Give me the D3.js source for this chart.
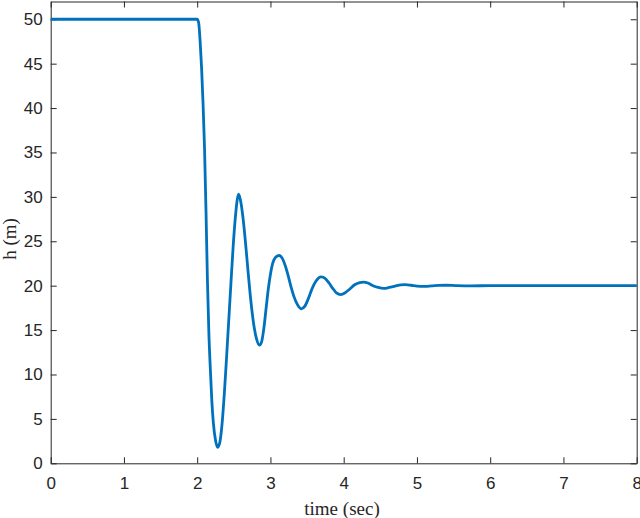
<!DOCTYPE html>
<html>
<head>
<meta charset="utf-8">
<script src="https://cdn.jsdelivr.net/npm/d3@7"></script>
<style>
  html, body { margin: 0; padding: 0; background: #fff; }
  svg { display: block; }
</style>
</head>
<body>
<svg id="chart" width="640" height="518"></svg>
<script>
// ---- data ----
const timeSec = [
  0, 2.00, 2.02, 2.04, 2.06, 2.08, 2.10, 2.12, 2.14, 2.16, 2.18, 2.20, 2.22, 2.25, 2.28,
  2.31, 2.34, 2.37, 2.40, 2.43, 2.46, 2.49, 2.52, 2.545, 2.567, 2.60, 2.63, 2.66, 2.69,
  2.72, 2.75, 2.78, 2.81, 2.85, 2.88, 2.91, 2.94, 2.97, 3.00, 3.03, 3.07, 3.12, 3.16,
  3.20, 3.24, 3.28, 3.32, 3.36, 3.42, 3.47, 3.52, 3.57, 3.62, 3.69, 3.75, 3.80, 3.85,
  3.90, 3.96, 4.02, 4.08, 4.15, 4.22, 4.27, 4.33, 4.40, 4.47, 4.55, 4.62, 4.70, 4.78,
  4.84, 4.92, 5.00, 5.10, 5.20, 5.30, 5.40, 5.55, 5.75, 6.00, 7.00, 8.00
];
const heightM = [
  50, 50, 49.6, 47.5, 44.5, 40.5, 35.5, 28.5, 20.5, 14.5, 10.5, 7.0, 4.6, 2.6, 1.8,
  2.4, 4.5, 7.8, 11.8, 16.0, 20.2, 24.3, 27.6, 29.6, 30.3, 29.2, 27.3, 24.8, 22.0,
  19.3, 17.0, 15.2, 14.0, 13.3, 13.7, 15.2, 17.4, 19.6, 21.3, 22.5, 23.2, 23.4, 23.1,
  22.3, 21.2, 19.9, 18.8, 18.0, 17.4, 17.7, 18.6, 19.7, 20.5, 21.0, 20.8, 20.3, 19.7,
  19.2, 19.0, 19.2, 19.6, 20.1, 20.35, 20.4, 20.3, 20.0, 19.8, 19.7, 19.8, 19.95, 20.1,
  20.12, 20.05, 19.95, 19.92, 19.97, 20.03, 20.05, 20.0, 19.98, 20.0, 20.0, 20.0
];
const xTicks = [0, 1, 2, 3, 4, 5, 6, 7, 8];
const yTicks = [0, 5, 10, 15, 20, 25, 30, 35, 40, 45, 50];
const xLabel = "time (sec)";
const yLabel = "h (m)";

// ---- layout ----
const svg = d3.select("#chart");
const plotLeft = 50.7, plotRight = 636.7, plotTop = 1.5, plotBottom = 463.3;
const axisColor = "#262626";

const x = d3.scaleLinear().domain([0, 8]).range([plotLeft, plotRight]);
const y = d3.scaleLinear().domain([0, 52]).range([plotBottom, plotTop]);

const tickFont = "'Liberation Sans', Arial, Helvetica, sans-serif";
const labelFont = "'Liberation Serif', 'Times New Roman', Times, serif";

function styleAxis(g) {
  g.selectAll("path.domain").attr("stroke", axisColor).attr("stroke-width", 1);
  g.selectAll(".tick line").attr("stroke", axisColor).attr("stroke-width", 1);
  g.selectAll(".tick text").attr("fill", axisColor)
    .style("font-family", tickFont).style("font-size", "17px");
}

svg.append("g")
  .attr("transform", `translate(0,${plotBottom})`)
  .call(d3.axisBottom(x).tickValues(xTicks).tickFormat(d3.format("d"))
        .tickSizeInner(-6).tickSizeOuter(0).tickPadding(14))
  .call(styleAxis);

svg.append("g")
  .attr("transform", `translate(${plotLeft},0)`)
  .call(d3.axisLeft(y).tickValues(yTicks).tickFormat(d3.format("d"))
        .tickSizeInner(-6).tickSizeOuter(0).tickPadding(8))
  .call(styleAxis);

svg.append("g")
  .attr("transform", `translate(0,${plotTop})`)
  .call(d3.axisTop(x).tickValues(xTicks).tickFormat("")
        .tickSizeInner(-6).tickSizeOuter(0))
  .call(styleAxis);

svg.append("g")
  .attr("transform", `translate(${plotRight},0)`)
  .call(d3.axisRight(y).tickValues(yTicks).tickFormat("")
        .tickSizeInner(-6).tickSizeOuter(0))
  .call(styleAxis);

// data line
const pts = timeSec.map((t, i) => [t, heightM[i]]);
const line = d3.line()
  .x(d => x(d[0]))
  .y(d => y(d[1]))
  .curve(d3.curveMonotoneX);

svg.append("path")
  .datum(pts)
  .attr("d", line)
  .attr("fill", "none")
  .attr("stroke", "#0072BD")
  .attr("stroke-width", 2.8)
  .attr("stroke-linejoin", "round");

// axis labels
svg.append("text")
  .attr("x", 342)
  .attr("y", 515)
  .attr("text-anchor", "middle")
  .attr("fill", axisColor)
  .style("font-family", labelFont)
  .style("font-size", "19px")
  .text(xLabel);

svg.append("text")
  .attr("transform", "translate(16,239) rotate(-90)")
  .attr("text-anchor", "middle")
  .attr("fill", axisColor)
  .style("font-family", labelFont)
  .style("font-size", "19px")
  .text(yLabel);
</script>
</body>
</html>
